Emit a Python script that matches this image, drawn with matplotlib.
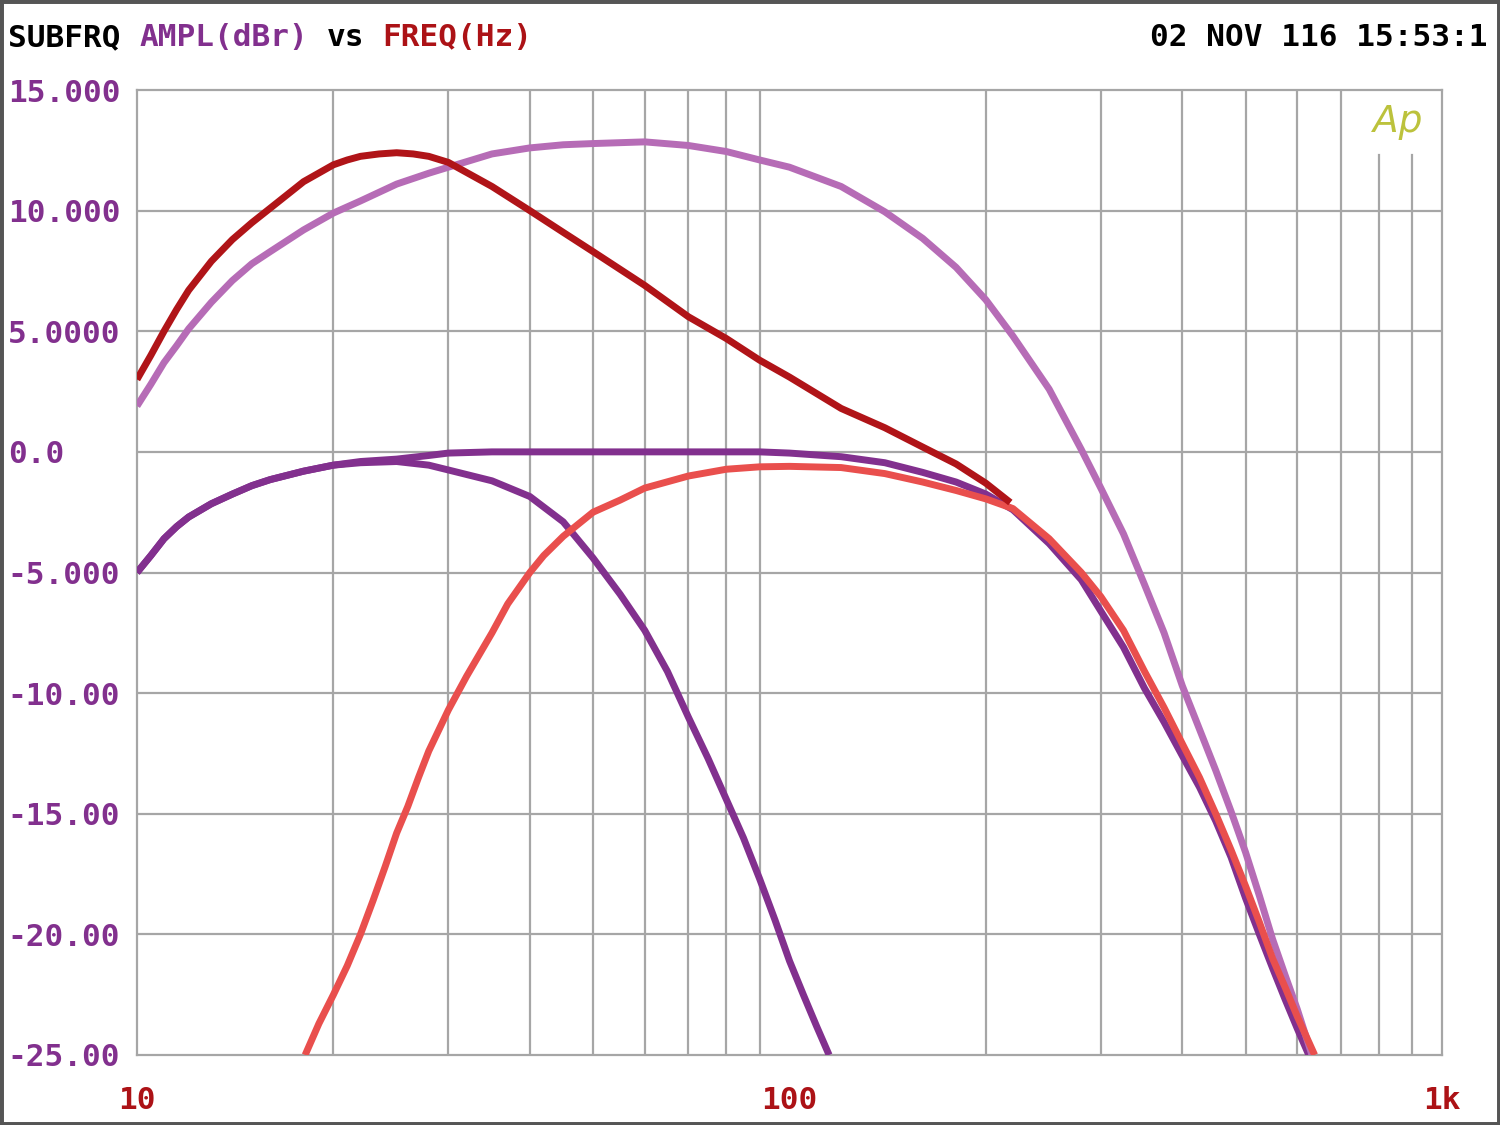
#!/usr/bin/env python3
# -*- coding: utf-8 -*-

import matplotlib
matplotlib.use('Agg')
import matplotlib.pyplot as plt
from matplotlib.patches import Rectangle

# ************************************************************************************************************************
# datos leidos del barrido (Hz, dBr)

frecRojoOscuro = [10, 10.5, 11, 11.5, 12, 13, 14, 15, 16, 18, 20, 21, 22, 23.5, 25, 26.5, 28, 30, 35, 40, 45, 50,
                  60, 70, 80, 90, 100, 120, 140, 160, 180, 200, 218]
ampRojoOscuro = [3.0, 4.0, 5.0, 5.9, 6.7, 7.9, 8.8, 9.5, 10.1, 11.2, 11.9, 12.1, 12.25, 12.35, 12.4, 12.35, 12.25,
                 12.0, 11.0, 10.0, 9.1, 8.3, 6.9, 5.6, 4.7, 3.8, 3.1, 1.8, 1.0, 0.2, -0.5, -1.3, -2.1]

frecOrquidea = [10, 10.5, 11, 11.5, 12, 13, 14, 15, 16, 18, 20, 22, 25, 28, 30, 35, 40, 45, 50, 60, 70, 80, 90,
                100, 120, 140, 160, 180, 200, 220, 250, 280, 300, 325, 350, 375, 400, 425, 450, 475, 500, 525,
                550, 575, 600, 632]
ampOrquidea = [1.9, 2.8, 3.7, 4.4, 5.1, 6.2, 7.1, 7.8, 8.3, 9.2, 9.9, 10.4, 11.1, 11.55, 11.8, 12.35, 12.6, 12.73,
               12.78, 12.85, 12.7, 12.45, 12.1, 11.8, 11.0, 9.95, 8.85, 7.65, 6.3, 4.8, 2.6, 0.1, -1.5, -3.4,
               -5.5, -7.5, -9.7, -11.5, -13.2, -14.9, -16.6, -18.4, -20.2, -21.7, -23.1, -25.0]

frecPasaBajo = [10, 10.5, 11, 11.5, 12, 13, 14, 15, 16, 18, 20, 22, 25, 28, 30, 35, 40, 45, 50, 55, 60, 65, 70,
                75, 80, 85, 90, 95, 100, 105, 110, 115]
ampPasaBajo = [-5.0, -4.3, -3.6, -3.1, -2.7, -2.15, -1.75, -1.4, -1.15, -0.8, -0.55, -0.45, -0.4, -0.55, -0.75,
               -1.2, -1.85, -2.9, -4.4, -5.9, -7.4, -9.1, -11.0, -12.7, -14.4, -16.0, -17.7, -19.4, -21.1,
               -22.5, -23.8, -25.0]

frecSuma = [10, 10.5, 11, 11.5, 12, 13, 14, 15, 16, 18, 20, 22, 25, 28, 30, 35, 40, 50, 60, 70, 80, 90, 100,
            120, 140, 160, 180, 200, 220, 250, 280, 300, 325, 350, 375, 400, 425, 450, 475, 500, 525, 550, 575,
            600, 625]
ampSuma = [-5.0, -4.3, -3.6, -3.1, -2.7, -2.15, -1.75, -1.4, -1.15, -0.8, -0.55, -0.4, -0.3, -0.15, -0.05, 0.0,
           0.0, 0.0, 0.0, 0.0, 0.0, 0.0, -0.05, -0.2, -0.45, -0.85, -1.25, -1.75, -2.4, -3.8, -5.3, -6.6, -8.1,
           -9.8, -11.2, -12.6, -13.9, -15.3, -16.8, -18.5, -20.0, -21.4, -22.7, -23.9, -25.0]

frecPasaAlto = [18.1, 19, 20, 21, 22, 23, 24, 25, 26, 27, 28, 30, 32, 35, 37, 40, 42, 45, 50, 55, 60, 70, 80,
                90, 100, 120, 140, 160, 180, 200, 220, 250, 280, 300, 325, 350, 375, 400, 425, 450, 475, 500,
                525, 550, 575, 600, 638]
ampPasaAlto = [-25.0, -23.7, -22.5, -21.3, -20.0, -18.6, -17.2, -15.8, -14.7, -13.5, -12.4, -10.7, -9.3, -7.5,
               -6.3, -5.0, -4.3, -3.5, -2.5, -2.0, -1.5, -1.0, -0.72, -0.62, -0.6, -0.65, -0.9, -1.25, -1.6,
               -1.95, -2.35, -3.6, -5.0, -6.0, -7.4, -9.1, -10.6, -12.1, -13.5, -15.0, -16.5, -18.0, -19.5,
               -21.0, -22.2, -23.4, -25.0]

ticksY = [15, 10, 5, 0, -5, -10, -15, -20, -25]
etiquetasY = ['15.000', '10.000', '5.0000', '0.0', '-5.000', '-10.00', '-15.00', '-20.00', '-25.00']
ticksX = [10, 100, 1000]
etiquetasX = ['10', '100', '1k']
gridX = [20, 30, 40, 50, 60, 70, 80, 90, 200, 300, 400, 500, 600, 700, 800, 900]

# ************************************************************************************************************************

colorGrid = '#a6a6a6'
colorMorado = '#82308e'
colorRojo = '#ac1216'
fuente = 'DejaVu Sans Mono'
tam = 22.4

fig = plt.figure(figsize=(15, 11.25), dpi=100)
fig.patches.append(Rectangle((0, 0), 1, 1, transform=fig.transFigure, fill=False,
                             edgecolor='#555555', lw=5))

ax = fig.add_axes([137 / 1500, 1 - 1055 / 1125, 1305 / 1500, 965 / 1125])
ax.set_xscale('log')
ax.set_xlim(10, 1000)
ax.set_ylim(-25, 15)

for y in ticksY[1:-1]:
    ax.axhline(y, color=colorGrid, lw=1.6, zorder=1)

for f in gridX:
    # las lineas de 800 y 900 dejan sitio al logo
    tope = 0.933 if f >= 800 else 1
    ax.axvline(f, ymax=tope, color=colorGrid, lw=1.6, zorder=1)

for s in ax.spines.values():
    s.set_color(colorGrid)
    s.set_linewidth(1.6)

estilo = dict(lw=5, solid_capstyle='butt', solid_joinstyle='round')
ax.plot(frecPasaBajo, ampPasaBajo, color=colorMorado, zorder=3, **estilo)
ax.plot(frecSuma, ampSuma, color=colorMorado, zorder=3, **estilo)
ax.plot(frecOrquidea, ampOrquidea, color='#b66cb6', zorder=4, **estilo)
ax.plot(frecPasaAlto, ampPasaAlto, color='#e94f4d', zorder=5, **estilo)
ax.plot(frecRojoOscuro, ampRojoOscuro, color='#b01418', zorder=6, **estilo)

ax.xaxis.set_minor_locator(matplotlib.ticker.NullLocator())
ax.set_xticks(ticksX)
ax.set_xticklabels(etiquetasX, fontfamily=fuente, fontweight='bold', fontsize=tam, color=colorRojo)
ax.set_yticks(ticksY)
ax.set_yticklabels(etiquetasY, fontfamily=fuente, fontweight='bold', fontsize=tam, color=colorMorado)
ax.tick_params(axis='x', length=0, pad=22)
ax.tick_params(axis='y', length=0, pad=93)
for lab in ax.get_yticklabels():
    lab.set_horizontalalignment('left')

ax.text(0.966, 0.967, 'Ap', transform=ax.transAxes, ha='center', va='center', fontsize=27,
        fontstyle='italic', color='#bcc23c', family='DejaVu Sans', fontweight='light')

# titulo en varios colores, fuente monoespaciada
anchoCar = tam * 0.602 * 100 / 72
partes = [('SUBFRQ', 'black', 0), ('AMPL(dBr)', colorMorado, 7), ('vs', 'black', 17), ('FREQ(Hz)', colorRojo, 20)]
for txt, col, pos in partes:
    fig.text((8 + pos * anchoCar) / 1500, 1 - 38 / 1125, txt, ha='left', va='center', color=col,
             fontfamily=fuente, fontweight='bold', fontsize=tam)

fig.text(1487 / 1500, 1 - 38 / 1125, '02 NOV 116 15:53:1', ha='right', va='center', color='black',
         fontfamily=fuente, fontweight='bold', fontsize=tam)

fig.savefig('out.png', dpi=100, facecolor='white')
